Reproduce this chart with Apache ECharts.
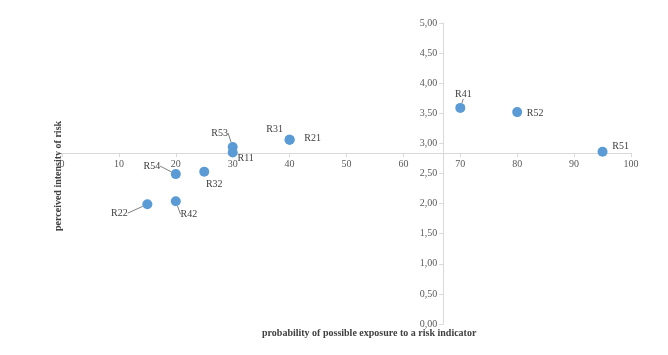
<!DOCTYPE html>
<html lang="en">
<head>
    <meta charset="UTF-8">
    <title>risk scatter</title>
    <script src="https://cdn.jsdelivr.net/npm/echarts@6.0.0/dist/echarts.min.js"></script>
    <style>
        html, body { margin: 0; padding: 0; background: #fff; }
        #chart { width: 668px; height: 355px; }
    </style>
</head>
<body>
    <div id="chart"></div>

    <script>
        // data
        const riskNames = ['R41', 'R52', 'R51', 'R21', 'R31', 'R53', 'R11', 'R54', 'R32', 'R22', 'R42'];
        const probability = [70, 80, 95, 40, 40, 30, 30, 20, 25, 15, 20];
        const intensity = [3.59, 3.52, 2.86, 3.06, 3.06, 2.94, 2.85, 2.49, 2.53, 1.99, 2.04];

        // where the two axes cross
        const crossX = 67;
        const crossY = 2.84;

        // label placement (dx, dy from the dot) and whether a leader line is drawn
        const labelShift = {
            R41: [3, -14, true],
            R52: [18, 1, false],
            R51: [18, -5, false],
            R21: [23, -1, false],
            R31: [-15, -10, false],
            R53: [-13, -14, true],
            R11: [13, 6, false],
            R54: [-24, -8, true],
            R32: [10, 13, false],
            R22: [-28, 9, true],
            R42: [13, 13, true]
        };

        const serif = '"Liberation Serif", "DejaVu Serif", serif';
        const chart = echarts.init(document.getElementById('chart'));

        const points = riskNames.map((name, i) => ({
            name: name,
            value: [probability[i], intensity[i]],
            labelLine: { show: labelShift[name][2] }
        }));

        const option = {
            animation: false,
            backgroundColor: '#ffffff',
            grid: { left: 62, right: 37, top: 23, bottom: 31 },
            xAxis: {
                type: 'value',
                min: 0,
                max: 100,
                interval: 10,
                splitLine: { show: false },
                axisLine: { onZero: false, lineStyle: { color: '#d9d9d9' } },
                axisTick: { show: true, length: 4, lineStyle: { color: '#d9d9d9' } },
                axisLabel: { color: '#595959', fontFamily: serif, fontSize: 10, margin: 6 }
            },
            yAxis: {
                type: 'value',
                min: 0,
                max: 5,
                interval: 0.5,
                splitLine: { show: false },
                axisLine: { show: true, onZero: false, lineStyle: { color: '#d9d9d9' } },
                axisTick: { show: true, length: 4, lineStyle: { color: '#d9d9d9' } },
                axisLabel: {
                    color: '#595959', fontFamily: serif, fontSize: 10, margin: 6,
                    formatter: v => v.toFixed(2).replace('.', ',')
                }
            },
            graphic: [
                {
                    type: 'text', left: 262, top: 328,
                    style: { text: 'probability of possible exposure to a risk indicator', fill: '#404040', font: 'bold 10px ' + serif }
                },
                {
                    type: 'text', x: 53, y: 231, rotation: Math.PI / 2,
                    style: { text: 'perceived intensity of risk', fill: '#404040', font: 'bold 10px ' + serif }
                }
            ],
            series: [{
                type: 'scatter',
                symbolSize: 10,
                itemStyle: { color: '#5b9bd5', opacity: 1 },
                data: points,
                label: {
                    show: true,
                    position: 'inside',
                    formatter: '{b}',
                    color: '#404040',
                    fontFamily: serif,
                    fontSize: 10
                },
                labelLine: { show: true, lineStyle: { color: '#7f7f7f', width: 1 } },
                labelLayout: p => {
                    const s = labelShift[riskNames[p.dataIndex]];
                    return { dx: s[0], dy: s[1] };
                }
            }]
        };
        chart.setOption(option);

        // move the axes so they cross at (crossX, crossY)
        const origin = chart.convertToPixel({ gridIndex: 0 }, [0, 0]);
        const cross = chart.convertToPixel({ gridIndex: 0 }, [crossX, crossY]);
        chart.setOption({
            xAxis: { offset: -(origin[1] - cross[1]) },
            yAxis: { offset: -(cross[0] - origin[0]) }
        });
    </script>
</body>
</html>
